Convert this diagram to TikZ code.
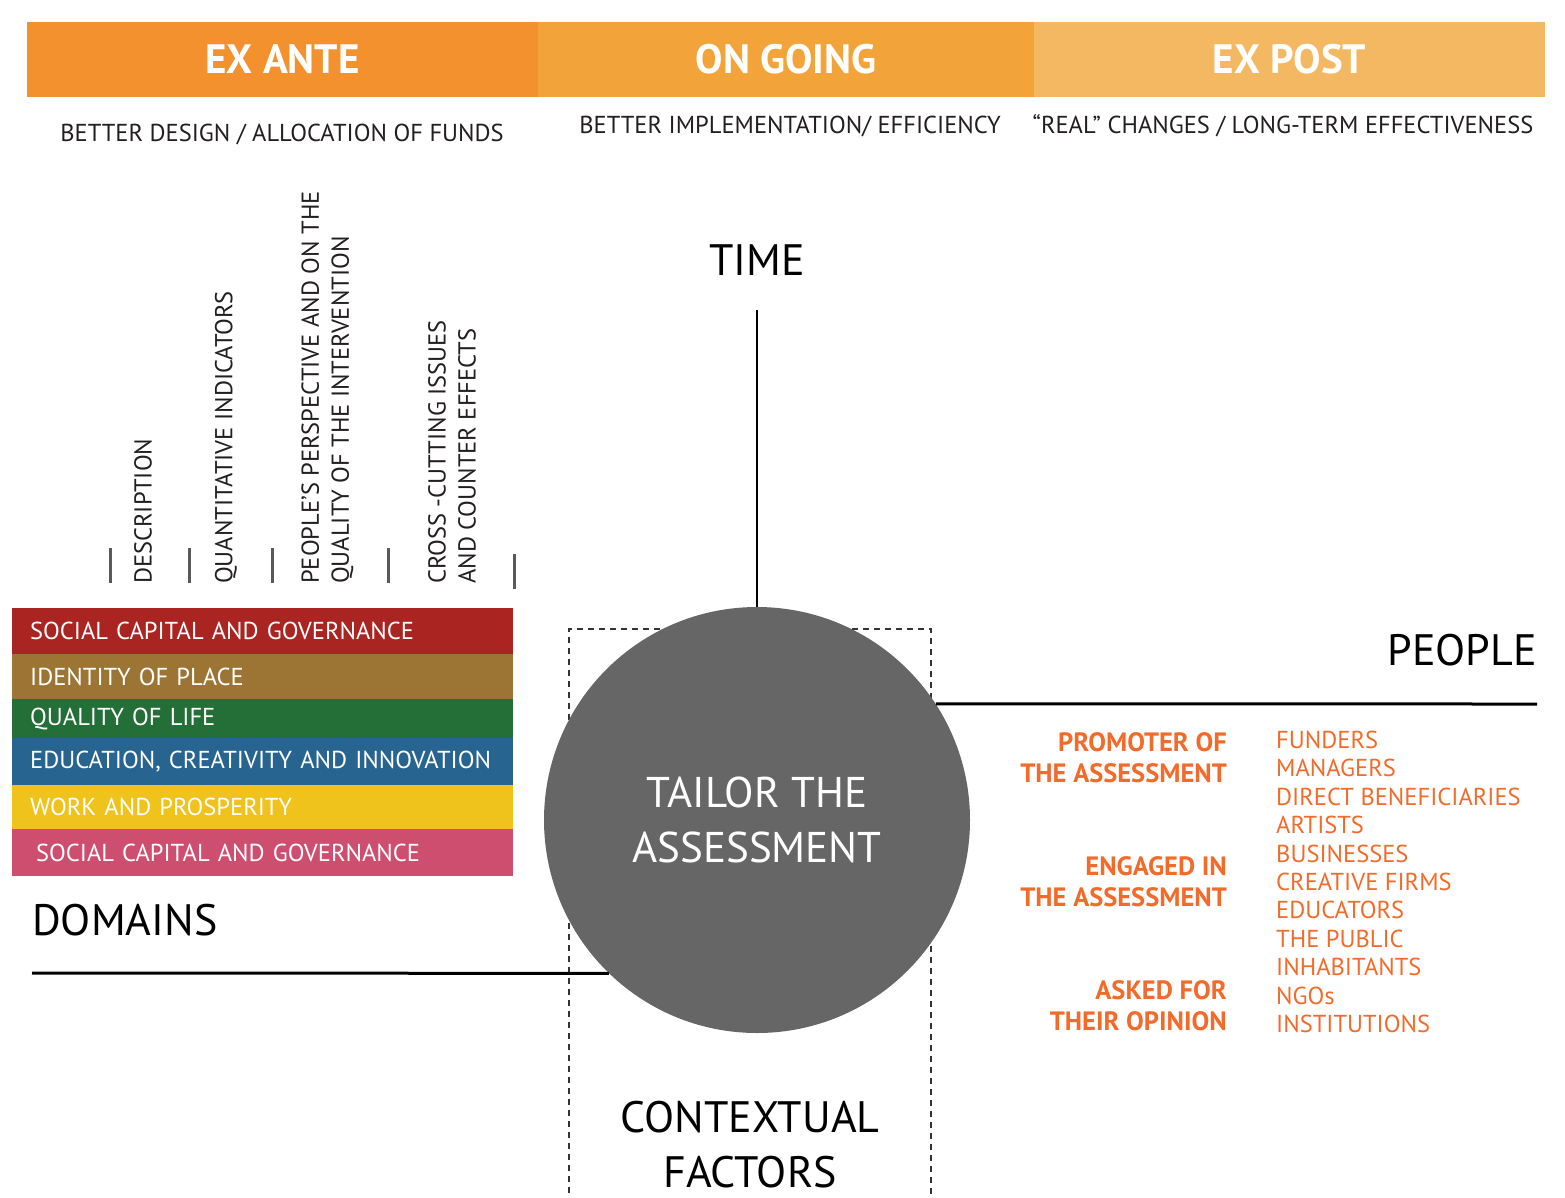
\documentclass[tikz,border=0pt]{standalone}
\usepackage{fontspec}
\setmainfont{PT Sans}
\usetikzlibrary{positioning}

\definecolor{exante}{HTML}{F2912D}
\definecolor{ongoing}{HTML}{F2A43A}
\definecolor{expost}{HTML}{F5B862}
\definecolor{domred}{HTML}{AA2422}
\definecolor{dombrown}{HTML}{9C7535}
\definecolor{domgreen}{HTML}{246F37}
\definecolor{domblue}{HTML}{27648F}
\definecolor{domyellow}{HTML}{EFC31C}
\definecolor{dompink}{HTML}{CE4E70}
\definecolor{hubgray}{HTML}{666666}
\definecolor{roleorange}{HTML}{F26B2A}
\definecolor{darktext}{HTML}{231F20}

\newcommand\hdrfont{\fontsize{41}{46}\selectfont\bfseries}
\newcommand\txtfont{\fontsize{24.5}{30}\selectfont}
\newcommand\rolefont{\fontsize{26.5}{31}\selectfont\bfseries}
\newcommand\axisfont{\fontsize{44}{55}\selectfont}
\newcommand\hubfont{\fontsize{43}{55}\selectfont}

\tikzset{
    headbar/.style={minimum height=75pt, inner sep=0pt, text=white, font=\hdrfont},
    goal/.style={text=darktext, font=\txtfont, inner sep=0pt},
    axislabel/.style={text=black, font=\axisfont, inner sep=0pt, align=center},
    axis/.style={line width=3pt, black},
    tickmark/.style={line width=3pt, black!65},
    aspect/.style={rotate=90, anchor=west, text=darktext, font=\txtfont, align=left, inner sep=0pt},
    domainbar/.style={anchor=north west, minimum width=501pt, text width=465pt, inner xsep=18pt, inner ysep=0pt, text=white, font=\txtfont, align=left},
    hub/.style={circle, fill=hubgray, minimum size=426pt, inner sep=0pt, text=white, font=\hubfont, align=center},
    ctxbox/.style={line width=1.2pt, black!80, dash pattern=on 6pt off 5pt},
    role/.style={anchor=east, text=roleorange, font=\rolefont, align=right, inner sep=0pt},
    member/.style={anchor=west, text=roleorange, font=\txtfont, inner sep=0pt}
}

\begin{document}
\begin{tikzpicture}[x=1pt,y=-1pt]
    \useasboundingbox (0,0) rectangle (1565,1197);
    % \draw[help lines, color=gray!30, dashed] (0,0) grid[step=100] (1565,1197);

    % phases
    \node[headbar, fill=exante, minimum width=511pt] (ante) at (282.5,59.5) {EX ANTE};
    \node[headbar, fill=ongoing, minimum width=496pt] (going) at (786,59.5) {ON GOING};
    \node[headbar, fill=expost, minimum width=511pt] (post) at (1289.5,59.5) {EX POST};

    \node[goal] (goalante) at (282,134) {BETTER DESIGN / ALLOCATION OF FUNDS};
    \node[goal] (goalgoing) at (790,126) {BETTER IMPLEMENTATION/ EFFICIENCY};
    \node[goal] (goalpost) at (1283,126) {“REAL” CHANGES / LONG-TERM EFFECTIVENESS};

    % context box behind the hub
    \draw[ctxbox] (569,1215) -- (569,629) -- (931,629) -- (931,1215);

    % hub and axes
    \node[hub] (hub) at (757,820) {TAILOR THE\\ASSESSMENT};

    \node[axislabel] (time) at (757,260) {TIME};
    \coordinate (timetop) at (757,310);
    \draw[axis, line width=2.5pt] (timetop) -- (hub.north);

    \node[axislabel, anchor=east] (people) at (1537,650) {PEOPLE};
    \coordinate (peopleend) at (1537,704);
    \draw[axis] (hub.33) -- (peopleend);

    \node[axislabel, anchor=west] (domains) at (32,920) {DOMAINS};
    \coordinate (domainsend) at (32,973);
    \draw[axis] (domainsend) -- (hub.226);

    \node[axislabel] (context) at (750,1145) {CONTEXTUAL\\FACTORS};

    % aspects
    \foreach \x/\y in {110/548, 189/548, 272/548, 388/548, 514/554}
        \draw[tickmark] (\x,\y) -- ++(0,35);

    \node[aspect] (describe) at (143,584) {DESCRIPTION};
    \node[aspect] (quanti) at (226,584) {QUANTITATIVE INDICATORS};
    \node[aspect] (persp) at (327.5,584) {PEOPLE’S PERSPECTIVE AND ON THE\\QUALITY OF THE INTERVENTION};
    \node[aspect] (cross) at (452,584) {CROSS -CUTTING ISSUES\\AND COUNTER EFFECTS};

    % domains
    \foreach \yy/\hh/\domcol/\txt [count=\i] in {
        608/46/domred/{SOCIAL CAPITAL AND GOVERNANCE},
        654/45/dombrown/{IDENTITY OF PLACE},
        699/39/domgreen/{QUALITY OF LIFE},
        738/47/domblue/{EDUCATION, CREATIVITY AND INNOVATION},
        785/44/domyellow/{WORK AND PROSPERITY},
        829/47/dompink/{\hspace{6pt}SOCIAL CAPITAL AND GOVERNANCE}}
        \node[domainbar, fill=\domcol, minimum height=\hh pt] (dom\i) at (12,\yy) {\txt};

    % people
    \node[role] (promoter) at (1227,758) {PROMOTER OF\\THE ASSESSMENT};
    \node[role] (engaged) at (1227,882) {ENGAGED IN\\THE ASSESSMENT};
    \node[role] (asked) at (1227,1006) {ASKED FOR\\THEIR OPINION};

    \foreach \who [count=\i from 0] in {FUNDERS, MANAGERS, DIRECT BENEFICIARIES, ARTISTS,
        BUSINESSES, CREATIVE FIRMS, EDUCATORS, THE PUBLIC, INHABITANTS, NGOs, INSTITUTIONS}
        \node[member] (who\i) at (1276,{740+28.4*\i}) {\who};
\end{tikzpicture}
\end{document}
